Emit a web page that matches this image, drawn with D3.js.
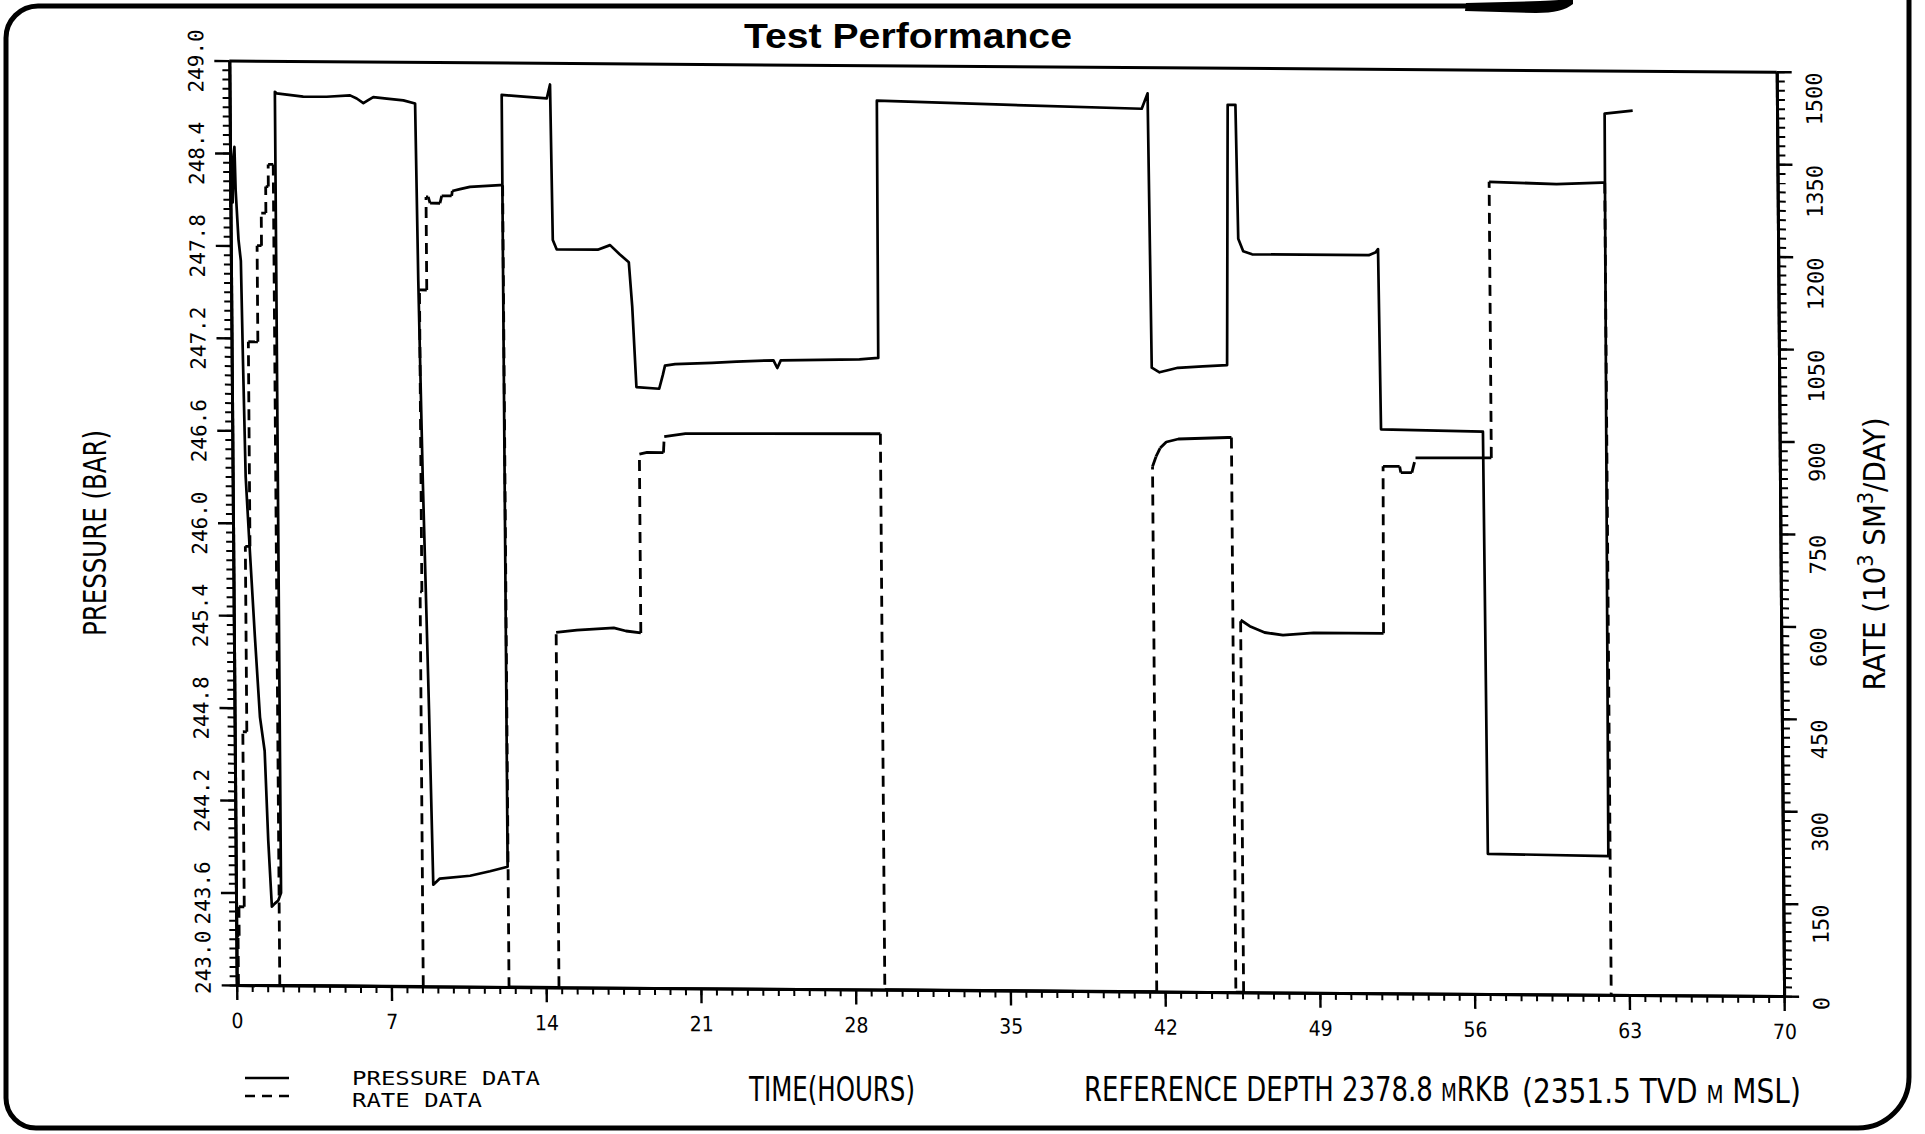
<!DOCTYPE html>
<html>
<head>
<meta charset="utf-8">
<script src="https://cdn.jsdelivr.net/npm/d3@7"></script>
<style>
  body { margin: 0; background: #fff; }
  svg { display: block; background: #fff; }
</style>
</head>
<body>
<svg id="chart" width="1925" height="1134"></svg>
<script>
// [time (hours), pressure (bar)]
const pressureData = [
  [0.00, 248.05], [0.05, 248.32], [0.10, 248.08], [0.15, 248.38], [0.20, 248.44],
  [0.24, 248.16], [0.35, 247.84], [0.45, 247.70], [0.51, 247.05], [0.59, 246.30],
  [0.72, 245.91], [0.95, 245.26], [1.15, 244.74], [1.35, 244.52], [1.48, 243.94],
  [1.62, 243.51], [1.75, 243.53], [1.91, 243.55], [2.04, 243.60], [2.05, 248.80],
  [2.13, 248.79], [3.33, 248.77], [4.39, 248.77], [5.45, 248.78], [5.75, 248.76],
  [6.05, 248.73], [6.27, 248.75], [6.50, 248.77], [7.11, 248.76], [7.86, 248.75],
  [8.39, 248.73], [8.47, 247.58], [8.60, 246.30], [8.80, 244.80], [8.93, 243.66],
  [9.23, 243.70], [10.6, 243.72], [11.5, 243.75], [12.30, 243.78], [12.31, 248.79],
  [13.30, 248.78], [14.35, 248.77], [14.50, 248.86], [14.57, 247.85], [14.74, 247.79],
  [16.60, 247.79], [17.16, 247.82], [17.60, 247.76], [18.00, 247.71], [18.14, 247.42],
  [18.30, 246.90], [19.33, 246.89], [19.50, 246.98], [19.60, 247.04], [20.06, 247.05],
  [21.73, 247.06], [22.84, 247.07], [24.51, 247.08], [24.68, 247.03], [24.84, 247.08],
  [28.40, 247.09], [29.25, 247.10], [29.28, 248.77], [35.0, 248.75], [41.26, 248.73],
  [41.53, 248.83], [41.62, 247.05], [41.97, 247.02], [42.25, 247.03], [42.80, 247.05],
  [43.93, 247.06], [45.03, 247.07], [45.15, 248.76], [45.50, 248.76], [45.58, 247.89],
  [45.80, 247.81], [46.20, 247.79], [51.48, 247.79], [51.80, 247.81], [51.90, 247.83],
  [51.97, 246.66], [56.58, 246.65], [56.65, 243.91], [62.10, 243.90], [62.20, 248.72],
  [63.47, 248.74]
];

// [time (hours), rate (10^3 Sm3/day)]
const rateData = [
  [0.00, 0], [0.08, 0], [0.08, 80], [0.13, 80], [0.13, 127], [0.37, 127], [0.37, 411],
  [0.55, 411], [0.55, 712], [0.76, 712], [0.76, 1044], [1.19, 1044], [1.19, 1200],
  [1.39, 1200], [1.39, 1253], [1.60, 1253], [1.60, 1296], [1.72, 1296], [1.72, 1332],
  [1.95, 1332], [1.95, 0],
  [8.44, 0], [8.44, 640], [8.52, 640], [8.52, 1130], [8.85, 1130], [8.85, 1281],
  [8.95, 1281], [9.03, 1271], [9.48, 1271], [9.56, 1283], [10.01, 1283], [10.04, 1291],
  [10.39, 1294], [10.84, 1298], [12.20, 1301], [12.32, 1301], [12.32, 0],
  [14.58, 0], [14.58, 576], [15.52, 580], [17.19, 584], [17.74, 579], [18.41, 576],
  [18.41, 866], [18.76, 869], [19.50, 869], [19.54, 895], [20.5, 900], [29.32, 902],
  [29.32, 0],
  [41.62, 0], [41.62, 852], [41.78, 868], [41.97, 882], [42.25, 892], [42.80, 897],
  [45.03, 900], [45.20, 900], [45.20, 0],
  [45.55, 0], [45.55, 604], [45.96, 594], [46.63, 584], [47.46, 580], [48.85, 584],
  [52.01, 584], [52.05, 855], [52.80, 855], [52.85, 845], [53.35, 845], [53.52, 869],
  [56.95, 870], [56.95, 1318], [60.0, 1315], [62.04, 1318], [62.18, 1318], [62.18, 0]
];

const timeTicks = [0, 7, 14, 21, 28, 35, 42, 49, 56, 63, 70];
const pressureTicks = [243.0, 243.6, 244.2, 244.8, 245.4, 246.0, 246.6, 247.2, 247.8, 248.4, 249.0];
const rateTicks = [0, 150, 300, 450, 600, 750, 900, 1050, 1200, 1350, 1500];

const monoFont = "'DejaVu Sans Mono', 'Liberation Mono', monospace";
const narrowFont = "'Liberation Sans Narrow', 'DejaVu Sans Condensed', 'Liberation Sans', Arial, sans-serif";

const svg = d3.select("#chart");

// squeeze a text horizontally so it spans the width measured on the scan
function fitText(sel, x, y, width, rotated) {
  const w = sel.node().getComputedTextLength();
  const k = width / w;
  sel.attr("transform", `translate(${x},${y})${rotated ? " rotate(-90)" : ""} scale(${k},1)`);
  return sel;
}

// outer frame of the scanned sheet
svg.append("path")
  .attr("d", "M1467,6 H38 A32,32 0 0 0 6,38 V1098 A30,30 0 0 0 36,1128 H1858 A51,51 0 0 0 1909,1077 V0")
  .attr("fill", "none").attr("stroke", "#000").attr("stroke-width", 5);
svg.append("path")
  .attr("d", "M1466,3 L1540,1 C1558,0 1566,0 1573,-2 L1573,4 C1566,10 1554,13 1536,13 L1465,11 Z")
  .attr("fill", "#000");

const title = svg.append("text")
  .attr("font-family", "'Liberation Sans', Arial, Helvetica, sans-serif")
  .attr("font-weight", "bold").attr("font-size", 36)
  .text("Test Performance");
fitText(title, 744, 48, 328);

// plot area; the scan is slightly sheared, so the frame is too
const W = 1547.4, H = 924.4;
const plot = svg.append("g")
  .attr("transform", "translate(229.3,60.6) matrix(1,0.00717,0.008,1,0,0)");

const x = d3.scaleLinear().domain([0, 70]).range([0, W]);
const yP = d3.scaleLinear().domain([243, 249]).range([H, 0]);
const yR = d3.scaleLinear().domain([0, 1500]).range([H, 0]);

const timeMinor = d3.range(101).map(i => i * 0.7);
const pressureMinor = d3.range(101).map(i => 243 + i * 0.06);
const rateMinor = d3.range(101).map(i => i * 15);

function styleAxis(g, width) {
  g.select(".domain").attr("stroke-width", 3);
  g.selectAll(".tick line").attr("stroke-width", width);
}

// left axis
const leftMinor = plot.append("g")
  .call(d3.axisLeft(yP).tickValues(pressureMinor).tickSize(7).tickSizeOuter(0).tickFormat(""));
styleAxis(leftMinor, 2);
const leftMajor = plot.append("g")
  .call(d3.axisLeft(yP).tickValues(pressureTicks).tickSize(15).tickSizeOuter(0).tickFormat(d3.format(".1f")))
  .attr("font-family", monoFont).attr("font-size", 21);
styleAxis(leftMajor, 2.4);
leftMajor.selectAll("text")
  .attr("x", null).attr("dy", null)
  .attr("text-anchor", "middle")
  .attr("transform", d => d === 243 ? "translate(-26,-23) rotate(-90)" : "translate(-26,0) rotate(-90)");

// right axis
const rightMinor = plot.append("g").attr("transform", `translate(${W},0)`)
  .call(d3.axisRight(yR).tickValues(rateMinor).tickSize(8).tickSizeOuter(0).tickFormat(""));
styleAxis(rightMinor, 2);
const rightMajor = plot.append("g").attr("transform", `translate(${W},0)`)
  .call(d3.axisRight(yR).tickValues(rateTicks).tickSize(15).tickSizeOuter(0).tickFormat(d3.format("d")))
  .attr("font-family", monoFont).attr("font-size", 22);
styleAxis(rightMajor, 2.4);
rightMajor.selectAll("text")
  .attr("x", null).attr("dy", null)
  .attr("text-anchor", "end")
  .attr("transform", "translate(45,0) rotate(-90)");

// bottom axis
const bottomMinor = plot.append("g").attr("transform", `translate(0,${H})`)
  .call(d3.axisBottom(x).tickValues(timeMinor).tickSize(7).tickSizeOuter(0).tickFormat(""));
styleAxis(bottomMinor, 2);
const bottomMajor = plot.append("g").attr("transform", `translate(0,${H})`)
  .call(d3.axisBottom(x).tickValues(timeTicks).tickSize(15).tickSizeOuter(0))
  .attr("font-family", narrowFont).attr("font-size", 21);
styleAxis(bottomMajor, 2.4);
bottomMajor.selectAll("text").attr("y", 43).attr("dy", null);

// top border
plot.append("line")
  .attr("x1", 0).attr("x2", W).attr("y1", 0.5).attr("y2", 0.5)
  .attr("stroke", "#000").attr("stroke-width", 3);

// rate: steep jumps come out dashed, the near-flat runs look solid
const rateLine = d3.line().x(d => x(d[0])).y(d => yR(d[1]));
const runs = [];
rateData.forEach((p, i) => {
  if (i === 0) return;
  const a = rateData[i - 1];
  const steep = Math.abs(yR(p[1]) - yR(a[1])) > Math.abs(x(p[0]) - x(a[0]));
  const last = runs[runs.length - 1];
  if (last && last.dashed === steep && !steep) last.pts.push(p);
  else runs.push({ dashed: steep, pts: [a, p] });
});
plot.selectAll(".rate")
  .data(runs)
  .enter().append("path")
  .attr("class", "rate")
  .attr("d", d => rateLine(d.pts))
  .attr("fill", "none").attr("stroke", "#000").attr("stroke-width", 2.8)
  .attr("stroke-linejoin", "round")
  .attr("stroke-dasharray", d => d.dashed ? "11,7" : null);

// pressure
plot.append("path")
  .datum(pressureData)
  .attr("d", d3.line().x(d => x(d[0])).y(d => yP(d[1])))
  .attr("fill", "none").attr("stroke", "#000").attr("stroke-width", 2.7)
  .attr("stroke-linejoin", "round");

// axis titles
const pTitle = svg.append("text")
  .attr("text-anchor", "middle")
  .attr("font-family", narrowFont).attr("font-size", 32)
  .text("PRESSURE (BAR)");
fitText(pTitle, 106, 533, 206, true);

const rateTitle = svg.append("text")
  .attr("text-anchor", "middle")
  .attr("font-family", narrowFont).attr("font-size", 30);
rateTitle.append("tspan").text("RATE (10");
rateTitle.append("tspan").attr("baseline-shift", "super").attr("font-size", 21).text("3");
rateTitle.append("tspan").text(" SM");
rateTitle.append("tspan").attr("baseline-shift", "super").attr("font-size", 21).text("3");
rateTitle.append("tspan").text("/DAY)");
fitText(rateTitle, 1885, 554, 273, true);

// legend
svg.append("line").attr("x1", 245).attr("x2", 289).attr("y1", 1078).attr("y2", 1078)
  .attr("stroke", "#000").attr("stroke-width", 2.7);
svg.append("line").attr("x1", 245).attr("x2", 289).attr("y1", 1096).attr("y2", 1096)
  .attr("stroke", "#000").attr("stroke-width", 2.7).attr("stroke-dasharray", "10,7");
const leg1 = svg.append("text")
  .attr("font-family", monoFont).attr("font-size", 19)
  .text("PRESSURE DATA");
fitText(leg1, 352, 1085, 188);
const leg2 = svg.append("text")
  .attr("font-family", monoFont).attr("font-size", 19)
  .text("RATE DATA");
fitText(leg2, 352, 1107, 130);

const timeTitle = svg.append("text")
  .attr("font-family", narrowFont).attr("font-size", 34)
  .text("TIME(HOURS)");
fitText(timeTitle, 749, 1101, 166);

const refA = svg.append("text")
  .attr("font-family", narrowFont).attr("font-size", 34);
refA.append("tspan").text("REFERENCE DEPTH 2378.8 ");
refA.append("tspan").attr("font-size", 24).text("M");
refA.append("tspan").text("RKB");
fitText(refA, 1084, 1101, 426);

const refB = svg.append("text")
  .attr("font-family", narrowFont).attr("font-size", 34);
refB.append("tspan").text("(2351.5 TVD ");
refB.append("tspan").attr("font-size", 24).text("M");
refB.append("tspan").text(" MSL)");
fitText(refB, 1522, 1103, 279);
</script>
</body>
</html>
